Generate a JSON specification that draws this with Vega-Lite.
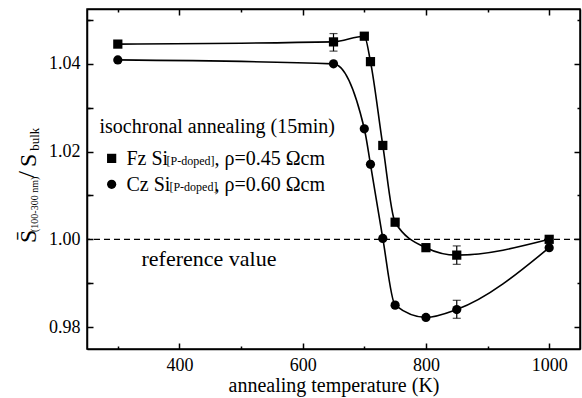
{
  "$schema": "https://vega.github.io/schema/vega-lite/v6.json",
  "width": 493,
  "height": 340,
  "autosize": {"type": "none"},
  "padding": {"left": 87, "top": 9, "right": 2, "bottom": 49},
  "background": "white",
  "config": {
    "view": {"stroke": "black", "strokeWidth": 1.5},
    "font": "Liberation Serif",
    "axis": {
      "labelFont": "Liberation Serif", "labelFontSize": 18, "labelColor": "black",
      "titleFont": "Liberation Serif", "titleFontSize": 20, "titleColor": "black", "titleFontWeight": "normal",
      "domainColor": "black", "domainWidth": 1.5, "tickColor": "black", "tickWidth": 1.5, "grid": false
    }
  },
  "datasets": {
    "pts": [
      {"series": "Fz", "T": 300, "S": 1.0445},
      {"series": "Fz", "T": 650, "S": 1.045},
      {"series": "Fz", "T": 700, "S": 1.0463},
      {"series": "Fz", "T": 710, "S": 1.0405},
      {"series": "Fz", "T": 730, "S": 1.0214},
      {"series": "Fz", "T": 750, "S": 1.0039},
      {"series": "Fz", "T": 800, "S": 0.9981},
      {"series": "Fz", "T": 850, "S": 0.9964},
      {"series": "Fz", "T": 1000, "S": 1.0},
      {"series": "Cz", "T": 300, "S": 1.0409},
      {"series": "Cz", "T": 650, "S": 1.040},
      {"series": "Cz", "T": 700, "S": 1.0252},
      {"series": "Cz", "T": 710, "S": 1.0171},
      {"series": "Cz", "T": 730, "S": 1.0002},
      {"series": "Cz", "T": 750, "S": 0.985},
      {"series": "Cz", "T": 800, "S": 0.9822},
      {"series": "Cz", "T": 850, "S": 0.984},
      {"series": "Cz", "T": 1000, "S": 0.9981}
    ],
    "errs": [
      {"series": "Fz", "T": 650, "lo": 1.0429, "hi": 1.0469},
      {"series": "Fz", "T": 850, "lo": 0.9943, "hi": 0.9985},
      {"series": "Cz", "T": 850, "lo": 0.982, "hi": 0.9861}
    ]
  },
  "layer": [
    {
      "data": {"values": [{"ref": 1}]},
      "mark": {"type": "rule", "strokeDash": [6, 4], "strokeWidth": 1.2, "color": "black"},
      "encoding": {
        "y": {"field": "ref", "type": "quantitative", "scale": {"domain": [0.975, 1.0525], "nice": false, "zero": false}, "axis": null}
      }
    },
    {
      "data": {"name": "pts"},
      "transform": [{"filter": "datum.series == 'Fz'"}],
      "mark": {"type": "line", "interpolate": "monotone", "color": "black", "strokeWidth": 1.6},
      "encoding": {
        "x": {"field": "T", "type": "quantitative", "scale": {"domain": [250, 1050], "nice": false, "zero": false},
          "axis": {"orient": "bottom", "values": [300, 400, 500, 600, 700, 800, 900, 1000], "format": "d",
            "labelFont": "Liberation Serif", "labelFontSize": 18, "titleFont": "Liberation Serif", "titleFontSize": 20,
            "labelExpr": "datum.value % 200 == 0 ? datum.label : ''",
            "tickSize": {"condition": {"test": "datum.value % 200 == 0", "value": -6}, "value": -3},
            "labelPadding": 13, "title": "annealing temperature (K)", "titlePadding": 1}},
        "y": {"field": "S", "type": "quantitative", "scale": {"domain": [0.975, 1.0525], "nice": false, "zero": false},
          "axis": {"orient": "left", "values": [0.98, 0.99, 1.0, 1.01, 1.02, 1.03, 1.04, 1.05],
            "labelFont": "Liberation Serif", "labelFontSize": 18,
            "labelExpr": "round(datum.value*100) % 2 == 0 ? format(datum.value, '.2f') : ''",
            "tickSize": -6,
            "labelPadding": 13, "title": null}}
      }
    },
    {
      "data": {"name": "pts"},
      "transform": [{"filter": "datum.series == 'Cz'"}],
      "mark": {"type": "line", "interpolate": "monotone", "color": "black", "strokeWidth": 1.6},
      "encoding": {
        "x": {"field": "T", "type": "quantitative", "scale": {"domain": [250, 1050], "nice": false, "zero": false},
          "axis": {"orient": "top", "values": [300, 400, 500, 600, 700, 800, 900, 1000], "labels": false,
            "tickSize": {"condition": {"test": "datum.value % 200 == 0", "value": -6}, "value": -3}, "title": null}},
        "y": {"field": "S", "type": "quantitative", "scale": {"domain": [0.975, 1.0525], "nice": false, "zero": false},
          "axis": {"orient": "right", "values": [0.98, 0.99, 1.0, 1.01, 1.02, 1.03, 1.04, 1.05], "labels": false,
            "tickSize": {"condition": {"test": "round(datum.value*100) % 2 == 0", "value": -6}, "value": -3}, "title": null}}
      }
    },
    {
      "data": {"name": "pts"},
      "transform": [{"filter": "datum.series == 'Cz'"}],
      "mark": {"type": "line", "interpolate": "monotone", "color": "black", "strokeWidth": 0, "opacity": 0},
      "encoding": {
        "y": {"field": "S", "type": "quantitative",
          "axis": {"orient": "left", "values": [0.99, 1.01, 1.03, 1.05], "labels": false, "domain": false,
            "tickSize": -3, "title": null}},
        "x": {"field": "T", "type": "quantitative", "axis": null}
      }
    },
    {
      "data": {"name": "errs"},
      "mark": {"type": "rule", "color": "black", "strokeWidth": 1.2},
      "encoding": {
        "x": {"field": "T", "type": "quantitative", "axis": null},
        "y": {"field": "lo", "type": "quantitative", "axis": null},
        "y2": {"field": "hi"}
      }
    },
    {
      "data": {"name": "errs"},
      "mark": {"type": "tick", "orient": "horizontal", "color": "black", "size": 8, "thickness": 1.2},
      "encoding": {
        "x": {"field": "T", "type": "quantitative", "axis": null},
        "y": {"field": "lo", "type": "quantitative", "axis": null}
      }
    },
    {
      "data": {"name": "errs"},
      "mark": {"type": "tick", "orient": "horizontal", "color": "black", "size": 8, "thickness": 1.2},
      "encoding": {
        "x": {"field": "T", "type": "quantitative", "axis": null},
        "y": {"field": "hi", "type": "quantitative", "axis": null}
      }
    },
    {
      "data": {"name": "pts"},
      "transform": [{"filter": "datum.series == 'Fz'"}],
      "mark": {"type": "point", "shape": "square", "filled": true, "color": "black", "opacity": 1, "size": 85},
      "encoding": {
        "x": {"field": "T", "type": "quantitative", "axis": null},
        "y": {"field": "S", "type": "quantitative", "axis": null}
      }
    },
    {
      "data": {"name": "pts"},
      "transform": [{"filter": "datum.series == 'Cz'"}],
      "mark": {"type": "circle", "color": "black", "opacity": 1, "size": 85},
      "encoding": {
        "x": {"field": "T", "type": "quantitative", "axis": null},
        "y": {"field": "S", "type": "quantitative", "axis": null}
      }
    },
    {
      "data": {"values": [{"x": 290, "y": 1.01845}]},
      "mark": {"type": "point", "shape": "square", "filled": true, "color": "black", "opacity": 1, "size": 85},
      "encoding": {
        "x": {"field": "x", "type": "quantitative", "axis": null},
        "y": {"field": "y", "type": "quantitative", "axis": null}
      }
    },
    {
      "data": {"values": [{"x": 290, "y": 1.01253}]},
      "mark": {"type": "circle", "color": "black", "opacity": 1, "size": 85},
      "encoding": {
        "x": {"field": "x", "type": "quantitative", "axis": null},
        "y": {"field": "y", "type": "quantitative", "axis": null}
      }
    },
    {
      "data": {"values": [
        {"x": 270.3, "y": 1.02415, "t": "isochronal annealing (15min)"},
        {"x": 314.1, "y": 1.01686, "t": "Fz Si"},
        {"x": 456.8, "y": 1.01686, "t": ", ρ=0.45 Ωcm"},
        {"x": 314.1, "y": 1.01093, "t": "Cz Si"},
        {"x": 456.8, "y": 1.01093, "t": ", ρ=0.60 Ωcm"}
      ]},
      "mark": {"type": "text", "align": "left", "baseline": "alphabetic", "font": "Liberation Serif", "fontSize": 20, "color": "black"},
      "encoding": {
        "x": {"field": "x", "type": "quantitative", "axis": null},
        "y": {"field": "y", "type": "quantitative", "axis": null},
        "text": {"field": "t"}
      }
    },
    {
      "data": {"values": [
        {"x": 338.4, "y": 0.99385, "t": "reference value"}
      ]},
      "mark": {"type": "text", "align": "left", "baseline": "alphabetic", "font": "Liberation Serif", "fontSize": 22, "color": "black"},
      "encoding": {
        "x": {"field": "x", "type": "quantitative", "axis": null},
        "y": {"field": "y", "type": "quantitative", "axis": null},
        "text": {"field": "t"}
      }
    },
    {
      "data": {"values": [
        {"x": 379.0, "y": 1.01686, "t": "[P-doped]"},
        {"x": 383.8, "y": 1.01093, "t": "[P-doped]"}
      ]},
      "mark": {"type": "text", "align": "left", "baseline": "alphabetic", "font": "Liberation Serif", "fontSize": 12, "color": "black"},
      "encoding": {
        "x": {"field": "x", "type": "quantitative", "axis": null},
        "y": {"field": "y", "type": "quantitative", "axis": null},
        "text": {"field": "t"}
      }
    },
    {
      "data": {"values": [
        {"x": 156.0, "y": 1.00068, "t": "S̄"},
        {"x": 156.0, "y": 1.018, "t": "S"},
        {"x": 153.0, "y": 1.01481, "t": "/"}
      ]},
      "mark": {"type": "text", "align": "center", "baseline": "middle", "angle": 270, "font": "Liberation Serif", "fontSize": 24, "color": "black"},
      "encoding": {
        "x": {"field": "x", "type": "quantitative", "axis": null},
        "y": {"field": "y", "type": "quantitative", "axis": null},
        "text": {"field": "t"}
      }
    },
    {
      "data": {"values": [
        {"x": 166.0, "y": 1.00797, "t": "(100-300 nm)"}
      ]},
      "mark": {"type": "text", "align": "center", "baseline": "middle", "angle": 270, "font": "Liberation Serif", "fontSize": 10, "color": "black"},
      "encoding": {
        "x": {"field": "x", "type": "quantitative", "axis": null},
        "y": {"field": "y", "type": "quantitative", "axis": null},
        "text": {"field": "t"}
      }
    },
    {
      "data": {"values": [
        {"x": 166.0, "y": 1.0228, "t": "bulk"}
      ]},
      "mark": {"type": "text", "align": "center", "baseline": "middle", "angle": 270, "font": "Liberation Serif", "fontSize": 13, "color": "black"},
      "encoding": {
        "x": {"field": "x", "type": "quantitative", "axis": null},
        "y": {"field": "y", "type": "quantitative", "axis": null},
        "text": {"field": "t"}
      }
    }
  ],
  "resolve": {"axis": {"x": "independent", "y": "independent"}}
}
